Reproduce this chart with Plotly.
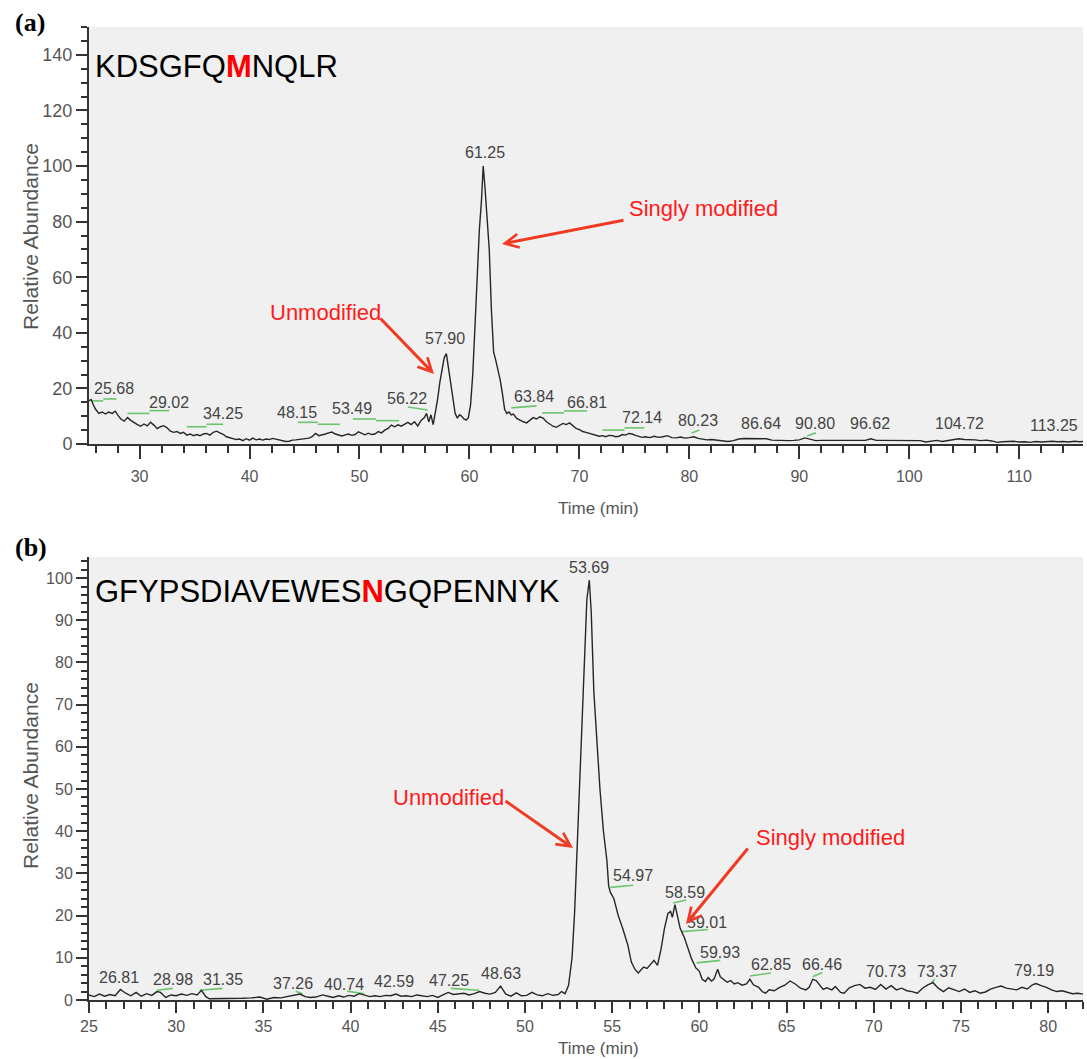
import plotly.graph_objects as go

# ---------------- Panel (a) data : KDSGFQMNQLR ----------------
time_a = [25.4, 25.6, 25.8, 26.0, 26.3, 26.6, 26.9, 27.2, 27.5, 27.8, 28.0, 28.3, 28.6, 28.9, 29.2, 29.5,
          29.8, 30.1, 30.4, 30.7, 31.0, 31.3, 31.6, 31.9, 32.2, 32.5, 32.8, 33.1, 33.4, 33.7, 34.0, 34.3,
          34.6, 34.9, 35.2, 35.5, 35.8, 36.1, 36.4, 36.7, 37.0, 37.3, 37.6, 37.9, 38.2, 38.5, 38.8, 39.1,
          39.4, 39.7, 40.0, 40.3, 40.6, 40.9, 41.2, 41.5, 41.8, 42.1, 42.4, 42.7, 43.0, 43.3, 43.6, 43.9,
          44.2, 44.5, 44.8, 45.1, 45.4, 45.7, 46.0, 46.3, 46.6, 46.9, 47.2, 47.5, 47.8, 48.1, 48.4, 48.7,
          49.0, 49.3, 49.6, 49.9, 50.2, 50.5, 50.8, 51.1, 51.4, 51.7, 52.0, 52.3, 52.6, 52.9, 53.2, 53.5,
          53.8, 54.1, 54.4, 54.7, 55.0, 55.3, 55.6, 55.9, 56.1, 56.3, 56.5, 56.7, 56.9, 57.1, 57.3, 57.5,
          57.7, 57.9, 58.1, 58.3, 58.5, 58.7, 58.9, 59.1, 59.3, 59.5, 59.7, 59.9, 60.1, 60.3, 60.5, 60.7,
          60.9, 61.1, 61.25, 61.4, 61.6, 61.8, 62.0, 62.2, 62.4, 62.6, 62.8, 63.0, 63.2, 63.4, 63.6, 63.8,
          64.0, 64.3, 64.6, 64.9, 65.2, 65.5, 65.8, 66.1, 66.4, 66.7, 67.0, 67.3, 67.6, 67.9, 68.2, 68.5,
          68.8, 69.1, 69.4, 69.7, 70.0, 70.3, 70.6, 70.9, 71.2, 71.5, 71.8, 72.1, 72.4, 72.7, 73.0, 73.3,
          73.6, 73.9, 74.2, 74.5, 74.8, 75.1, 75.4, 75.7, 76.0, 76.4, 76.8, 77.2, 77.6, 78.0, 78.4, 78.8,
          79.2, 79.6, 80.0, 80.4, 80.8, 81.2, 81.6, 82.0, 82.5, 83.0, 83.5, 84.0, 84.5, 85.0, 85.5, 86.0,
          86.5, 87.0, 87.5, 88.0, 88.5, 89.0, 89.5, 90.0, 90.5, 91.0, 91.5, 92.0, 92.5, 93.0, 93.5, 94.0,
          94.5, 95.0, 95.5, 96.0, 96.5, 97.0, 97.5, 98.0, 98.5, 99.0, 99.5, 100.0, 100.5, 101.0, 101.5, 102.0,
          102.5, 103.0, 103.5, 104.0, 104.5, 105.0, 105.5, 106.0, 106.5, 107.0, 107.5, 108.0, 108.5, 109.0,
          109.5, 110.0, 110.5, 111.0, 111.5, 112.0, 112.5, 113.0, 113.5, 114.0, 114.5, 115.0, 115.5, 115.8]
abund_a = [15.5, 16.0, 14.0, 12.5, 11.0, 11.5, 10.8, 11.5, 11.0, 11.8, 10.5, 9.0, 8.2, 9.5, 8.5, 7.6,
           7.0, 6.4, 7.2, 6.5, 7.8, 6.8, 5.5, 6.2, 6.6, 5.8, 4.6, 4.2, 4.5, 3.8, 4.2, 3.2,
           3.6, 3.0, 3.4, 3.0, 3.6, 3.8, 3.2, 4.2, 4.6, 4.0, 3.5, 2.6, 2.2, 2.0, 1.6, 1.8,
           1.2, 1.9, 1.4, 2.1, 1.5, 1.8, 1.4, 1.8, 1.6, 2.0, 1.7, 1.5, 1.2, 0.9, 1.0, 1.4,
           1.5, 1.6, 1.8, 2.0, 2.1, 2.6, 3.8, 3.0, 3.2, 3.6, 4.0, 4.3, 3.6, 3.2, 2.9, 3.3,
           3.6, 3.1, 3.4, 4.4, 3.8, 3.3, 3.9, 3.4, 3.6, 4.5, 4.0, 5.0, 5.6, 6.8, 6.2, 6.9,
           6.4, 7.2, 7.8, 7.0, 8.0, 6.5, 8.5, 9.5, 11.0, 8.0, 10.5, 7.0, 11.0, 16.0, 22.0, 27.0,
           31.0, 32.5, 27.0, 22.0, 17.0, 11.0, 9.3, 10.5, 10.0, 9.0, 8.6, 9.5, 14.0, 25.0, 42.0, 60.0,
           77.0, 88.0, 100.0, 93.0, 82.0, 70.0, 48.0, 33.0, 30.0, 27.0, 23.0, 18.0, 12.5, 11.0, 11.5, 10.5,
           10.8, 9.2, 8.5, 8.0, 7.6, 8.4, 9.5, 9.0, 9.8, 9.3, 8.0, 7.2, 6.4, 6.0, 6.8, 7.4,
           7.0, 7.6, 6.6, 5.6, 5.2, 4.5, 4.2, 3.8, 3.4, 3.2, 2.8, 3.0, 2.6, 3.1, 3.0, 2.6,
           2.8, 3.4, 3.2, 3.8, 3.6, 3.1, 2.7, 2.4, 2.6, 2.3, 2.8, 2.4, 2.6, 3.0, 2.3, 2.2,
           2.5, 2.1, 2.3, 2.6, 2.0, 1.8, 1.5, 1.6, 1.3, 1.2, 0.9, 1.2, 1.8, 2.0, 2.0, 1.9,
           2.0, 1.9, 1.4, 1.3, 1.4, 1.2, 1.3, 1.5, 2.2, 1.7, 1.2, 1.3, 1.3, 1.2, 1.3, 1.3,
           1.2, 1.2, 1.3, 1.3, 1.9, 1.3, 1.3, 1.3, 1.2, 1.3, 1.2, 1.2, 1.1, 1.2, 0.7, 0.9,
           1.3, 0.9, 1.3, 1.6, 1.9, 1.6, 1.6, 1.5, 1.2, 1.4, 1.1, 0.6, 0.8, 0.9,
           1.0, 0.7, 0.8, 0.6, 0.9, 0.7, 0.8, 1.0, 0.8, 0.9, 0.7, 1.0, 0.8, 0.9]

peak_text_a = ["25.68", "29.02", "34.25", "48.15", "53.49", "56.22", "57.90", "61.25", "63.84",
               "66.81", "72.14", "80.23", "86.64", "90.80", "96.62", "104.72", "113.25"]
peak_tx_a = [27.7, 32.7, 37.6, 44.3, 49.3, 54.3, 57.8, 61.4, 65.9, 70.7, 75.7, 80.8, 86.5, 91.4,
             96.4, 104.6, 113.2]
peak_ty_a = [19.8, 15.0, 10.8, 11.2, 12.6, 16.5, 38.0, 105.0, 17.0, 15.0, 9.7, 8.3, 7.2, 7.2,
             7.2, 7.2, 6.8]

green_a_x0 = [25.6, 26.7, 28.9, 30.9, 34.3, 36.1, 44.4, 46.2, 49.4, 51.5, 54.4, 63.8, 66.6, 68.6, 72.1, 74.1, 80.2, 90.7]
green_a_x1 = [26.7, 27.9, 30.9, 32.7, 36.1, 37.6, 46.2, 48.2, 51.5, 53.6, 56.2, 66.1, 68.6, 70.7, 74.1, 75.9, 80.9, 91.5]
green_a_y0 = [15.5, 16.2, 11.0, 12.0, 6.2, 7.1, 7.8, 7.1, 9.0, 8.4, 13.3, 13.0, 11.2, 11.9, 5.0, 5.8, 4.0, 2.9]
green_a_y1 = [15.5, 16.2, 11.0, 12.0, 6.2, 7.1, 7.8, 7.1, 9.0, 8.4, 12.2, 13.7, 11.2, 11.9, 5.0, 5.8, 5.0, 4.0]

# ---------------- Panel (b) data : GFYPSDIAVEWESNGQPENNYK ----------------
time_b = [25.0, 25.3, 25.6, 25.9, 26.2, 26.5, 26.8, 27.1, 27.4, 27.7, 28.0, 28.3, 28.6, 28.9, 29.1, 29.4,
          29.7, 30.0, 30.3, 30.6, 30.9, 31.2, 31.45, 31.7, 31.9, 32.3, 32.8, 33.3, 33.8, 34.3, 34.8, 35.2,
          35.6, 36.0, 36.4, 36.8, 37.1, 37.4, 37.7, 38.0, 38.4, 38.7, 39.0, 39.3, 39.6, 39.9, 40.2, 40.5,
          40.8, 41.1, 41.4, 41.7, 42.0, 42.3, 42.6, 42.9, 43.2, 43.5, 43.8, 44.1, 44.4, 44.7, 45.0, 45.3,
          45.6, 45.9, 46.2, 46.5, 46.8, 47.1, 47.4, 47.7, 48.0, 48.3, 48.6, 48.9, 49.2, 49.5, 49.8, 50.1,
          50.4, 50.7, 51.0, 51.3, 51.6, 51.9, 52.1, 52.3, 52.5, 52.7, 52.85, 53.0, 53.15, 53.3, 53.45, 53.55,
          53.69, 53.8, 53.95, 54.1, 54.3, 54.5, 54.7, 54.8, 54.9, 55.1, 55.35, 55.6, 55.9, 56.1, 56.3, 56.5,
          56.8, 57.0, 57.2, 57.4, 57.6, 57.8, 58.0, 58.2, 58.35, 58.45, 58.6, 58.75, 58.9, 59.15, 59.35, 59.55,
          59.8, 60.0, 60.16, 60.35, 60.5, 60.7, 60.85, 61.05, 61.2, 61.4, 61.6, 61.8, 62.0, 62.2, 62.45, 62.7,
          62.9, 63.1, 63.4, 63.6, 63.8, 64.0, 64.3, 64.6, 64.9, 65.2, 65.5, 65.8, 66.1, 66.3, 66.5, 66.7,
          66.9, 67.1, 67.3, 67.6, 67.8, 68.1, 68.3, 68.6, 68.9, 69.2, 69.5, 69.8, 70.1, 70.4, 70.7, 71.0,
          71.3, 71.6, 71.9, 72.2, 72.5, 72.8, 73.1, 73.4, 73.7, 74.0, 74.3, 74.6, 74.9, 75.2, 75.5, 75.8,
          76.1, 76.4, 76.7, 77.0, 77.3, 77.6, 77.9, 78.2, 78.5, 78.8, 79.1, 79.3, 79.6, 79.9, 80.2, 80.5,
          80.8, 81.1, 81.4, 81.7, 82.0]
abund_b = [1.2, 0.8, 1.4, 0.9, 1.3, 1.0, 2.5, 1.6, 1.0, 1.8, 0.9, 1.5, 1.1, 2.0, 1.8, 0.6,
           1.2, 1.0, 1.4, 1.1, 1.5, 1.2, 2.3, 0.8, 0.3, 0.3, 0.4, 0.4, 0.4, 0.5, 0.7, 0.2,
           0.6, 0.5, 0.8, 1.0, 1.4, 0.8, 0.6, 0.7, 1.2, 0.9, 0.6, 1.0, 0.7, 1.1, 0.9, 1.5,
           1.2, 0.8, 1.0, 0.8, 1.1, 1.0, 1.4, 0.9, 1.0, 0.8, 1.2, 1.0, 0.8, 1.1, 0.6, 1.2,
           1.8, 1.3, 1.4, 1.6, 1.2, 1.5, 2.0, 1.6, 1.4, 1.8, 3.3, 1.4, 0.9, 1.7, 1.0, 1.1,
           1.8, 1.2, 1.0, 1.5, 1.1, 1.3, 2.0, 1.5, 3.5, 10.0, 21.0, 36.0, 52.0, 67.0, 84.0, 95.0,
           99.5, 92.0, 73.0, 62.0, 50.0, 40.0, 33.0, 27.0, 25.5, 24.0, 20.0, 17.0, 13.0, 9.0, 7.3, 6.4,
           7.8, 7.5, 8.5, 9.4, 8.2, 12.0, 17.0, 20.5, 21.0, 19.6, 22.6, 20.0, 17.0, 14.7, 12.0, 9.8,
           7.6, 6.8, 4.9, 4.4, 5.3, 4.5, 5.0, 7.3, 5.5, 4.9, 4.2, 4.6, 3.8, 4.1, 3.5, 3.8,
           4.9, 3.6, 3.0, 2.0, 1.6, 2.4, 2.2, 3.0, 3.5, 4.5, 3.8, 2.8, 2.4, 3.0, 4.9, 4.6,
           3.6, 2.5, 2.9, 2.4, 3.2, 1.8, 1.6, 2.9, 3.4, 3.7, 2.8, 3.0, 2.5, 3.7, 2.6, 3.4,
           2.4, 2.8, 2.2, 2.0, 1.6, 2.8, 3.6, 4.1, 2.8, 2.0, 2.9, 2.4, 2.0, 2.6, 1.8, 2.2,
           1.6, 1.9, 2.6, 3.0, 3.3, 2.8, 2.6, 2.4, 3.0, 2.6, 3.6, 3.9, 3.4, 3.0, 2.4, 2.0,
           2.2, 1.8, 1.5, 1.6, 1.4]

peak_text_b = ["26.81", "28.98", "31.35", "37.26", "40.74", "42.59", "47.25", "48.63", "53.69",
               "54.97", "58.59", "59.01", "59.93", "62.85", "66.46", "70.73", "73.37", "79.19"]
peak_tx_b = [26.7, 29.8, 32.7, 36.7, 39.6, 42.5, 45.65, 48.6, 53.7, 56.2, 59.2, 60.45, 61.2, 64.1,
             67.05, 70.7, 73.6, 79.2]
peak_ty_b = [5.4, 4.8, 4.8, 3.8, 3.75, 4.4, 4.7, 6.25, 102.4, 29.4, 25.5, 18.4, 11.3, 8.4, 8.4,
             6.7, 6.7, 6.9]

green_b_x0 = [28.9, 31.35, 36.85, 39.8, 45.75, 54.9, 58.5, 59.0, 59.85, 62.9, 66.5, 73.3]
green_b_x1 = [29.8, 32.65, 37.25, 40.8, 47.35, 56.2, 59.25, 60.5, 61.2, 64.1, 67.05, 73.5]
green_b_y0 = [2.3, 2.3, 2.1, 2.1, 2.75, 26.7, 23.0, 16.2, 8.8, 5.7, 5.5, 4.0]
green_b_y1 = [2.75, 2.75, 1.5, 1.5, 2.3, 27.2, 23.7, 16.7, 9.4, 6.4, 6.5, 4.9]

# ---------------- layout geometry ----------------
W, H = 1087, 1059
ML, MR, MT, MB = 89, 4, 27, 59
PW, PH = W - ML - MR, H - MT - MB


def fx(px):
    return (px - ML) / PW


def fy(py):
    return (H - MB - py) / PH


FONT = "Liberation Sans, Arial, sans-serif"
AX = "#333333"
TICKC = "#555555"
RED = "#ff1a1a"
ARROW = "#f03a22"
GREEN = "#6cc46c"


def segs(x0, x1, y0, y1):
    xs, ys = [], []
    for a, b, c, d in zip(x0, x1, y0, y1):
        xs += [a, b, None]
        ys += [c, d, None]
    return xs, ys


fig = go.Figure()
ga_x, ga_y = segs(green_a_x0, green_a_x1, green_a_y0, green_a_y1)
gb_x, gb_y = segs(green_b_x0, green_b_x1, green_b_y0, green_b_y1)
fig.add_trace(go.Scatter(x=ga_x, y=ga_y, mode="lines", line=dict(color=GREEN, width=1.6),
                         xaxis="x", yaxis="y", showlegend=False, hoverinfo="skip"))
fig.add_trace(go.Scatter(x=time_a, y=abund_a, mode="lines", line=dict(color="#262626", width=1.4),
                         xaxis="x", yaxis="y", showlegend=False))
fig.add_trace(go.Scatter(x=gb_x, y=gb_y, mode="lines", line=dict(color=GREEN, width=1.6),
                         xaxis="x2", yaxis="y2", showlegend=False, hoverinfo="skip"))
fig.add_trace(go.Scatter(x=time_b, y=abund_b, mode="lines", line=dict(color="#262626", width=1.4),
                         xaxis="x2", yaxis="y2", showlegend=False))


def xax(rng, dtick, minor, anchor, standoff, tlen):
    return dict(domain=[0, 1], anchor=anchor, range=rng, tickmode="linear", tick0=0, dtick=dtick,
                ticks="outside", ticklen=tlen, tickwidth=1.5, tickcolor=AX,
                minor=dict(dtick=minor, tick0=0, ticks="outside", ticklen=7, tickwidth=1.5, tickcolor=AX),
                showline=True, linecolor=AX, linewidth=2, showgrid=False, zeroline=False,
                tickfont=dict(family=FONT, size=16, color=TICKC), ticklabelstandoff=standoff,
                fixedrange=True)


def yax(dom, rng, dtick, minor, anchor, size):
    return dict(domain=dom, anchor=anchor, range=rng, tickmode="linear", tick0=0, dtick=dtick,
                ticks="outside", ticklen=11, tickwidth=1.5, tickcolor=AX,
                minor=dict(dtick=minor, tick0=0, ticks="outside", ticklen=6, tickwidth=1.5, tickcolor=AX),
                showline=True, linecolor=AX, linewidth=2, showgrid=False, zeroline=False,
                tickfont=dict(family=FONT, size=size, color=TICKC), fixedrange=True)


fig.update_layout(
    width=W, height=H, margin=dict(l=ML, r=MR, t=MT, b=MB, pad=0),
    paper_bgcolor="white", plot_bgcolor="#f0f0f0",
    xaxis=xax([25.4, 115.8], 10, 2, "y", 4, 13),
    yaxis=yax([fy(444), 1.0], [0, 150], 20, 5, "x", 18),
    xaxis2=xax([25, 82], 5, 1, "y2", 0, 11),
    yaxis2=yax([0, fy(557)], [0, 105], 10, 2, "x2", 16),
)

ann = []
# peak labels
for t, x, y in zip(peak_text_a, peak_tx_a, peak_ty_a):
    ann.append(dict(x=x, y=y, xref="x", yref="y", text=t, showarrow=False,
                    font=dict(family=FONT, size=16, color="#444444")))
for t, x, y in zip(peak_text_b, peak_tx_b, peak_ty_b):
    ann.append(dict(x=x, y=y, xref="x2", yref="y2", text=t, showarrow=False,
                    font=dict(family=FONT, size=16, color="#444444")))


def ptext(px, py, text, size, color="#000000", family=FONT, xanchor="center", angle=0):
    ann.append(dict(x=fx(px), y=fy(py), xref="paper", yref="paper", text=text, showarrow=False,
                    xanchor=xanchor, yanchor="middle", textangle=angle,
                    font=dict(family=family, size=size, color=color)))


def arrow(tx, ty, sx, sy):
    ann.append(dict(x=fx(tx), y=fy(ty), xref="paper", yref="paper", text="", showarrow=True,
                    ax=sx - tx, ay=sy - ty, axref="pixel", ayref="pixel",
                    arrowhead=5, arrowsize=0.9, arrowwidth=3, arrowcolor=ARROW, standoff=0))


# panel labels
ptext(30, 23, "<b>(a)</b>", 26, family="Liberation Serif, Times New Roman, serif")
ptext(31, 547, "<b>(b)</b>", 26, family="Liberation Serif, Times New Roman, serif")
# peptide sequences
ptext(93, 66, "KDSGFQ<b><span style='color:#ff0000'>M</span></b>NQLR", 31, xanchor="left")
ptext(93, 591, "GFYPSDIAVEWES<b><span style='color:#ff0000'>N</span></b>GQPENNYK", 31, xanchor="left")
# axis titles
ptext(598, 509, "Time (min)", 17, color=TICKC)
ptext(598, 1048, "Time (min)", 17, color=TICKC)
ptext(30, 237, "Relative Abundance", 21, color=TICKC, angle=-90)
ptext(30, 776, "Relative Abundance", 21, color=TICKC, angle=-90)
# red annotations
ptext(325, 312, "Unmodified", 22, color=RED)
ptext(703, 209, "Singly modified", 22, color=RED)
ptext(448, 797, "Unmodified", 22, color=RED)
ptext(830, 837, "Singly modified", 22, color=RED)
arrow(434, 374, 379, 317)
arrow(502, 244, 625, 220)
arrow(573, 848, 504, 800)
arrow(686, 924, 749, 847)

fig.update_layout(annotations=ann)

fig.write_html("out.html", config={"displayModeBar": False},
               post_script="document.body.style.margin='0';")
